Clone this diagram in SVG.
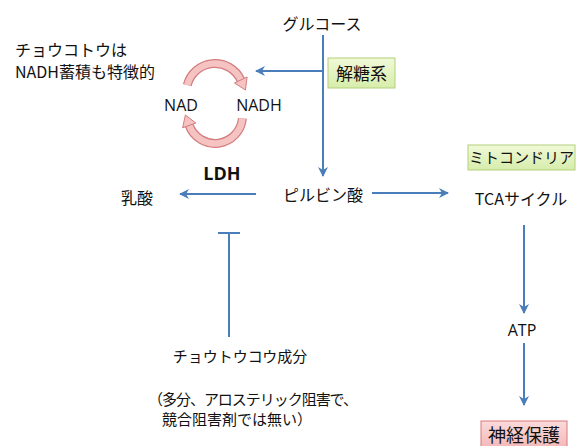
<svg xmlns="http://www.w3.org/2000/svg" width="576" height="446" viewBox="0 0 576 446">
<style>
.t{font-family:"Noto Sans CJK JP","Noto Sans",sans-serif;fill:#111;}
.l{font-family:"Open Sans","Liberation Sans",sans-serif;fill:#111;}
.c{stroke:#4a7ebb;stroke-width:2;fill:none;}
.arcO{stroke:#d47d7f;stroke-width:9;fill:none;}
.arcI{stroke:#f6c3c3;stroke-width:6.5;fill:none;}
.head{fill:#f6c3c3;stroke:#d47d7f;stroke-width:1;}
</style>
<defs>
<marker id="ah" viewBox="0 0 10 10" refX="9" refY="5" markerWidth="5" markerHeight="5" orient="auto" markerUnits="strokeWidth">
<path d="M0,0 L10,5 L0,10 L3,5 Z" fill="#4a7ebb"/>
</marker>
<linearGradient id="gG" x1="0" y1="0" x2="0" y2="1"><stop offset="0" stop-color="#f1f9d8"/><stop offset="1" stop-color="#d6edab"/></linearGradient>
<linearGradient id="gP" x1="0" y1="0" x2="0" y2="1"><stop offset="0" stop-color="#fbdada"/><stop offset="1" stop-color="#f3b2b2"/></linearGradient>
</defs>
<rect width="576" height="446" fill="#fff"/>
<g id="connectors">
<line class="c" x1="323" y1="35" x2="323" y2="176" marker-end="url(#ah)"/>
<line class="c" x1="323" y1="71" x2="256" y2="71" marker-end="url(#ah)"/>
<line class="c" x1="256" y1="194" x2="180" y2="194" marker-end="url(#ah)"/>
<line class="c" x1="372" y1="193" x2="448" y2="193" marker-end="url(#ah)"/>
<line class="c" x1="524" y1="225" x2="524" y2="313" marker-end="url(#ah)"/>
<line class="c" x1="524" y1="343" x2="524" y2="405" marker-end="url(#ah)"/>
<line class="c" x1="229" y1="337" x2="229" y2="233"/>
<line class="c" x1="218" y1="233" x2="240" y2="233"/>
</g>
<g id="cycle">
<path class="arcO" d="M187.3,85.1 A28.5,28.5 0 0 1 240.8,80"/>
<path class="arcI" d="M187.3,85.1 A28.5,28.5 0 0 1 240.8,80"/>
<polygon class="head" points="247.1,77 234.5,83 245.4,90"/>
<path class="arcO" d="M242.4,118.4 A27.5,27.5 0 0 1 189.2,125.4"/>
<path class="arcI" d="M242.4,118.4 A27.5,27.5 0 0 1 189.2,125.4"/>
<polygon class="head" points="182.6,127.8 195.8,123 185.4,115"/>
</g>
<g id="glucose"><text class="t" x="322" y="30" font-size="16" text-anchor="middle">グルコース</text></g>
<g id="glycolysis">
<rect x="328" y="58" width="67" height="30" fill="url(#gG)" stroke="#b3cf7a" stroke-width="1"/>
<text class="t" x="361.5" y="80" font-size="17" text-anchor="middle">解糖系</text>
</g>
<g id="note">
<text class="t" x="15" y="56" font-size="16">チョウコトウは</text>
<text class="t" x="15" y="78" font-size="16">NADH蓄積も特徴的</text>
</g>
<g id="nad"><text class="l" x="181" y="111" font-size="16" text-anchor="middle">NAD</text></g>
<g id="nadh"><text class="l" x="259" y="111" font-size="16" text-anchor="middle">NADH</text></g>
<g id="ldh"><text class="l" x="222" y="180" font-size="18" font-weight="bold" text-anchor="middle">LDH</text></g>
<g id="lactate"><text class="t" x="137" y="204" font-size="16" text-anchor="middle">乳酸</text></g>
<g id="pyruvate"><text class="t" x="323" y="201" font-size="16" text-anchor="middle">ピルビン酸</text></g>
<g id="mito">
<rect x="468" y="145" width="107" height="25" fill="url(#gG)" stroke="#b3cf7a" stroke-width="1"/>
<text class="t" x="521.5" y="163" font-size="15" text-anchor="middle">ミトコンドリア</text>
</g>
<g id="tca"><text class="t" x="521" y="205" font-size="16" text-anchor="middle">TCAサイクル</text></g>
<g id="atp"><text class="l" x="522" y="336" font-size="16" text-anchor="middle">ATP</text></g>
<g id="neuro">
<rect x="481" y="421" width="86" height="32" fill="url(#gP)" stroke="#d77a7a" stroke-width="1"/>
<text class="t" x="524" y="442" font-size="18" text-anchor="middle">神経保護</text>
</g>
<g id="component">
<text class="t" x="240" y="362" font-size="15" text-anchor="middle">チョウトウコウ成分</text>
<text class="t" x="148" y="405" font-size="15" textLength="210" lengthAdjust="spacing">（多分、アロステリック阻害で、</text>
<text class="t" x="237" y="425" font-size="15" text-anchor="middle">競合阻害剤では無い）</text>
</g>
</svg>
